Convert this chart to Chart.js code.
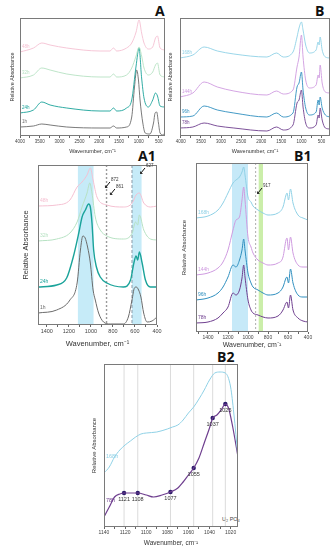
<!DOCTYPE html>
<html>
<head>
<meta charset="utf-8">
<script src="https://cdn.jsdelivr.net/npm/chart.js@4.4.1/dist/chart.umd.min.js"></script>
<style>
  html, body { margin: 0; padding: 0; background: #fff; }
  body { width: 334px; height: 550px; position: relative; overflow: hidden; font-family: 'Liberation Sans', Arial, sans-serif; }
  canvas { position: absolute; }
  .tag { position: absolute; font-family: 'Open Sans', 'Liberation Sans', sans-serif; font-weight: bold; font-size: 14px; line-height: 1; color: #111; }
  .note { position: absolute; font-size: 5.5px; color: #444; }
</style>
</head>
<body>
<div class="tag" style="left:155px;top:4px">A</div>
<div class="tag" style="left:315px;top:4px">B</div>
<div class="tag" style="left:138px;top:149px">A1</div>
<div class="tag" style="left:294px;top:149px">B1</div>
<div class="tag" style="left:217px;top:350px">B2</div>
<div class="note" style="left:222px;top:516px">U₂ PO₄</div>

<script>
// couleurs des séries
const c1h = '#6b6b6b', c24h = '#1aa39a', c32h = '#b7e2c3', c48h = '#f5c1d2';
const c78h = '#6f3f8f', c96h = '#2f8fbf', c144h = '#cf9be0', c168h = '#8fd1e6';

// graduations de l'axe x (les petites graduations tombent entre deux)
const fullTicks = [4000, 3500, 3000, 2500, 2000, 1500, 1000, 500];
const zoomTicks = [1400, 1200, 1000, 800, 600, 400];
const b2Ticks = [1140, 1120, 1100, 1080, 1060, 1040, 1020];

// ---- Panel A : 1h -> 48h, 4000-400 cm-1
const aWaveGray = [4000,3660,3450,3240,2820,1980,1730,1640,1560,1310,1180,1110,1055,1010,970,900,840,720,630,590,550,505,465,380,340];
const a1h = [9,10,12,11,9,8,8,10,8,9,19,49,66,56,36,13,3,2,13,23,24,13,3,1,4];
const aWave = [4000,3660,3450,3240,2820,1980,1730,1640,1560,1310,1180,1070,995,930,870,760,650,580,530,465,340];
const a24h = [23,26,34,31,28,25,25,28,25,28,36,70,88,58,38,29,36,43,40,30,29];
const a32h = [58,61,68,66,62,59,59,62,59,61,68,80,89,80,68,61,64,71,73,61,59];
const a48h = [84,88,93,91,88,85,85,88,85,88,93,104,116,103,93,87,89,98,100,88,86];

// ---- Panel B : 78h -> 168h
const bWave = [4020,3700,3420,3090,2680,1860,1620,1450,1210,1110,1060,1000,960,895,800,635,585,560,535,485,405,290];
const b78h = [8,9,13,10,8,5,9,6,11,33,36,46,29,13,8,11,21,18,28,16,8,7];
const b96h = [19,20,30,26,23,19,23,19,23,49,53,64,46,28,21,24,36,31,39,28,21,19];
const b144h = [39,43,54,49,45,41,45,42,46,69,79,101,79,56,48,51,61,58,71,53,44,43];
const b168h = [78,81,89,85,82,79,83,79,84,99,108,114,106,91,83,86,94,91,99,86,79,78];

// ---- Panel A1 : zoom 1480-400
const a1WaveGray = [1480,1310,1190,1125,1095,1073,1052,1030,1005,980,960,930,885,825,705,660,627,605,588,567,546,521,490,445,400];
const a1_1h = [12,15,25,42,75,89,87,78,62,35,25,12,3,1,1,8,25,37,38,35,28,12,3,4,8];
const a1WaveTeal = [1480,1310,1220,1160,1110,1080,1050,1020,1005,990,975,950,915,855,705,640,610,590,575,560,535,505,460,400];
const a1_24h = [38,40,47,68,92,108,115,121,118,102,75,58,48,42,38,45,62,69,65,73,62,45,38,38];
const a1WaveGreen = [1480,1310,1190,1125,1080,1035,1010,990,960,915,855,705,625,595,575,560,520,460,400];
const a1_32h = [84,86,92,103,118,132,142,132,108,95,89,86,92,103,100,110,95,86,85];
const a1WavePink = [1480,1310,1190,1125,1080,1035,1005,980,945,855,705,625,590,560,520,460,400];
const a1_48h = [119,120,125,138,143,150,157,145,128,120,118,122,130,132,122,118,119];
const a1Bands = [[1118, 976], [627, 540]];
const a1Lines = [858, 627];

// ---- Panel B1 : zoom 1520-400
const b1Wave = [1520,1400,1300,1250,1200,1150,1120,1085,1060,1043,1030,1000,970,950,900,850,800,700,650,620,610,595,575,550,500,450,400];
const b1_78h = [9,10,14,19,25,39,37,42,54,67,55,32,22,19,17,15,14,16,22,29,30,24,37,22,14,11,10];
const b1_96h = [32,34,39,45,55,67,65,72,82,93,82,59,49,45,42,39,37,39,45,54,55,49,63,49,37,35,35];
const b1_144h = [57,59,64,70,82,102,112,115,132,145,132,95,85,79,72,69,67,69,75,92,94,82,95,79,67,65,65];
const b1_168h = [114,116,122,129,139,149,152,155,160,165,157,135,130,126,122,119,117,119,125,137,139,132,143,129,117,114,112];
const b1BlueBand = [1160, 1000];
const b1GreenBand = [893, 850];
const b1Line = 923;

// ---- Panel B2 : 1140-1013
const b2Wave78 = [1140,1135,1130,1125,1121,1115,1108,1100,1093,1085,1077,1070,1065,1060,1055,1050,1045,1040,1037,1033,1029,1025,1022,1018,1013];
const b2_78h = [10,20,30,33,34,34,34,32,30,32,35,39,45,52,59,69,84,99,109,112,117,123,119,100,70];
const b2Wave168 = [1140,1135,1130,1125,1120,1115,1110,1105,1100,1090,1080,1075,1070,1065,1060,1055,1050,1045,1040,1035,1030,1025,1020,1017,1013];
const b2_168h = [54,60,70,77,82,86,90,93,94,95,98,100,102,107,114,120,128,137,147,154,155,154,140,114,70];
const b2PeakPos = [1121, 1108, 1077, 1055, 1037, 1025];
const b2PeakVal = [34, 34, 35, 59, 109, 123];

const pts = (xs, ys) => xs.map((x, i) => ({ x, y: ys[i] }));

function curve(label, xs, ys, color, width) {
  return { label, data: pts(xs, ys), borderColor: color, borderWidth: width || 1,
           pointRadius: 0, cubicInterpolationMode: 'monotone', fill: false };
}

// bandes, lignes verticales, cadre, étiquettes des courbes
const decor = {
  id: 'decor',
  beforeDatasetsDraw(chart, args, o) {
    const { ctx, chartArea: a, scales: { x } } = chart;
    ctx.save();
    (o.bands || []).forEach(b => {
      const x1 = x.getPixelForValue(b.from), x2 = x.getPixelForValue(b.to);
      ctx.fillStyle = b.color;
      ctx.fillRect(Math.min(x1, x2), a.top, Math.abs(x2 - x1), a.bottom - a.top);
    });
    (o.lines || []).forEach(l => {
      const px = x.getPixelForValue(l.at);
      ctx.strokeStyle = l.color;
      ctx.lineWidth = l.width;
      ctx.setLineDash(l.dash || []);
      ctx.beginPath(); ctx.moveTo(px, a.top); ctx.lineTo(px, a.bottom); ctx.stroke();
    });
    ctx.restore();
  },
  afterDatasetsDraw(chart, args, o) {
    const { ctx, chartArea: a, scales: { x, y } } = chart;
    ctx.save();
    ctx.strokeStyle = '#7a7a7a';
    ctx.lineWidth = 1;
    ctx.strokeRect(a.left + 0.5, a.top + 0.5, a.right - a.left - 1, a.bottom - a.top - 1);
    ctx.font = o.tagSize + 'px "Liberation Sans", Arial, sans-serif';
    ctx.textBaseline = 'alphabetic';
    chart.data.datasets.forEach((ds, i) => {
      const meta = chart.getDatasetMeta(i);
      if (ds.peaks) {
        ctx.fillStyle = '#333';
        ctx.textAlign = 'center';
        meta.data.forEach((p, j) => ctx.fillText(String(ds.data[j].x), p.x, p.y + 8));
        return;
      }
      const p = meta.data[0];
      ctx.fillStyle = ds.borderColor;
      ctx.textAlign = 'left';
      ctx.fillText(ds.label, p.x + 2, p.y + o.tagDy);
    });
    // petites flèches annotées
    (o.notes || []).forEach(n => {
      const px = x.getPixelForValue(n.x), py = y.getPixelForValue(n.y);
      ctx.fillStyle = '#333';
      ctx.textAlign = 'left';
      ctx.font = '4.5px "Liberation Sans", Arial, sans-serif';
      ctx.fillText(n.text, px, py);
      ctx.strokeStyle = '#111';
      ctx.lineWidth = 1;
      ctx.beginPath(); ctx.moveTo(px - 1, py + 1); ctx.lineTo(px - 5, py + 6); ctx.stroke();
      ctx.beginPath(); ctx.moveTo(px - 6, py + 7); ctx.lineTo(px - 6, py + 4); ctx.lineTo(px - 3, py + 7); ctx.closePath(); ctx.fill();
    });
    ctx.restore();
  }
};

function panel(p) {
  const yLh = p.yTitleSize * 1.2, xLh = p.xTitleSize * 1.2;
  const left = Math.round(p.yTitleX - yLh / 2);
  const top = p.box.t - 8;
  const right = Math.min(334, p.box.r + 10);
  const bottom = Math.round(p.xTitleY + xLh / 2);
  const cv = document.createElement('canvas');
  cv.width = right - left; cv.height = bottom - top;
  cv.style.left = left + 'px'; cv.style.top = top + 'px';
  cv.style.width = cv.width + 'px'; cv.style.height = cv.height + 'px';
  document.body.appendChild(cv);
  const font = s => ({ family: '"Liberation Sans", Arial, sans-serif', size: s });

  // graduations majeures + mineures (à mi-chemin)
  const half = Math.abs(p.ticks[0] - p.ticks[1]) / 2;
  const all = [];
  p.ticks.forEach(t => [t - half, t, t + half].forEach(v => {
    if (v >= p.xMin && v <= p.xMax && !all.includes(v)) all.push(v);
  }));

  new Chart(cv, {
    type: 'line',
    data: { datasets: p.datasets },
    plugins: [decor],
    options: {
      responsive: false, animation: false, devicePixelRatio: 1,
      layout: { padding: { left: 0, top: p.box.t - top, right: right - p.box.r, bottom: 0 } },
      plugins: {
        legend: { display: false }, tooltip: { enabled: false },
        decor: { bands: p.bands, lines: p.lines, notes: p.notes, tagSize: p.tagSize, tagDy: p.tagDy }
      },
      scales: {
        x: {
          type: 'linear', reverse: true, min: p.xMin, max: p.xMax,
          afterBuildTicks: s => { s.ticks = all.sort((a, b) => a - b).map(v => ({ value: v })); },
          afterFit: s => { s.height = bottom - p.box.b; },
          ticks: { autoSkip: false, maxRotation: 0, padding: 1,
                   font: font(p.tickSize), color: '#444',
                   callback: v => (p.ticks.includes(v) ? String(v) : '') },
          grid: { drawOnChartArea: false, tickLength: 2, color: '#666' },
          border: { display: false },
          title: { display: true, text: 'Wavenumber, cm⁻¹', font: font(p.xTitleSize), color: '#333', padding: 0 }
        },
        y: {
          min: 0, max: p.yMax,
          afterFit: s => { s.width = p.box.l - left; },
          ticks: { display: false }, grid: { display: false }, border: { display: false },
          title: { display: true, text: 'Relative Absorbance', font: font(p.yTitleSize), color: '#333', padding: 0 }
        }
      }
    }
  });
}

panel({
  box: { l: 20, t: 18, r: 165, b: 136 }, yTitleX: 12, xTitleY: 152,
  xMax: 4000, xMin: 340, ticks: fullTicks, yMax: 118,
  tickSize: 4.5, xTitleSize: 5.5, yTitleSize: 5.3, tagSize: 4.5, tagDy: -4,
  datasets: [
    curve('48h', aWave, a48h, c48h, 0.9), curve('32h', aWave, a32h, c32h, 0.9),
    curve('24h', aWave, a24h, c24h, 0.9), curve('1h', aWaveGray, a1h, c1h, 0.9)
  ]
});

panel({
  box: { l: 180, t: 18, r: 330, b: 136 }, yTitleX: 170, xTitleY: 152,
  xMax: 4020, xMin: 290, ticks: fullTicks, yMax: 118,
  tickSize: 4.5, xTitleSize: 5.5, yTitleSize: 5.3, tagSize: 4.5, tagDy: -4,
  datasets: [
    curve('168h', bWave, b168h, c168h, 0.9), curve('144h', bWave, b144h, c144h, 0.9),
    curve('96h', bWave, b96h, c96h, 0.9), curve('78h', bWave, b78h, c78h, 0.9)
  ]
});

panel({
  box: { l: 38, t: 165, r: 157, b: 325 }, yTitleX: 25, xTitleY: 343,
  xMax: 1480, xMin: 400, ticks: zoomTicks, yMax: 160,
  tickSize: 5.5, xTitleSize: 7.5, yTitleSize: 7.5, tagSize: 5, tagDy: -4,
  bands: a1Bands.map(b => ({ from: b[0], to: b[1], color: '#c6ebf8' })),
  lines: [
    { at: a1Lines[0], color: '#9a9a9a', width: 1.4, dash: [2, 2] },
    { at: a1Lines[1], color: '#8a9aa8', width: 1, dash: [3, 2] }
  ],
  notes: [{ x: 818, y: 144, text: '872' }, { x: 773, y: 137, text: '861' }, { x: 500, y: 158, text: '627' }],
  datasets: [
    curve('48h', a1WavePink, a1_48h, c48h, 1), curve('32h', a1WaveGreen, a1_32h, c32h, 1),
    curve('24h', a1WaveTeal, a1_24h, c24h, 1.4), curve('1h', a1WaveGray, a1_1h, c1h, 1)
  ]
});

panel({
  box: { l: 196, t: 163, r: 308, b: 332 }, yTitleX: 185, xTitleY: 345,
  xMax: 1520, xMin: 400, ticks: zoomTicks, yMax: 169,
  tickSize: 5, xTitleSize: 7, yTitleSize: 6, tagSize: 5, tagDy: -4,
  bands: [
    { from: b1BlueBand[0], to: b1BlueBand[1], color: '#c6e9f8' },
    { from: b1GreenBand[0], to: b1GreenBand[1], color: '#cbeeaa' }
  ],
  lines: [{ at: b1Line, color: '#9a9a9a', width: 0.8, dash: [2, 2] }],
  notes: [{ x: 850, y: 145, text: '917' }],
  datasets: [
    curve('168h', b1Wave, b1_168h, c168h, 1), curve('144h', b1Wave, b1_144h, c144h, 1),
    curve('96h', b1Wave, b1_96h, c96h, 1), curve('78h', b1Wave, b1_78h, c78h, 1)
  ]
});

panel({
  box: { l: 104, t: 364, r: 238, b: 527 }, yTitleX: 95, xTitleY: 543,
  xMax: 1140, xMin: 1013, ticks: b2Ticks, yMax: 163,
  tickSize: 5, xTitleSize: 6.5, yTitleSize: 6, tagSize: 5.5, tagDy: -15,
  lines: b2PeakPos.map(w => ({ at: w, color: '#d2d2d2', width: 0.8 })),
  datasets: [
    curve('168h', b2Wave168, b2_168h, c168h, 1),
    curve('78h', b2Wave78, b2_78h, c78h, 1.2),
    { label: 'peaks', peaks: true, data: pts(b2PeakPos, b2PeakVal), showLine: false,
      pointRadius: 2.2, pointBackgroundColor: '#2b1a6b', pointBorderWidth: 0 }
  ]
});
</script>
</body>
</html>
